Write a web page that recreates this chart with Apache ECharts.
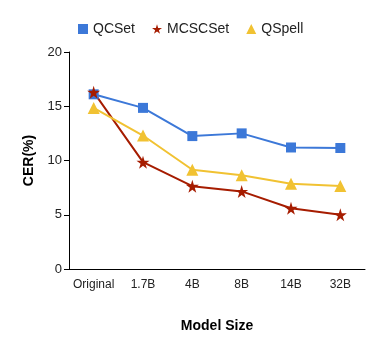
<!DOCTYPE html>
<html>
<head>
<meta charset="utf-8">
<script src="https://cdn.jsdelivr.net/npm/echarts@6/dist/echarts.min.js"></script>
<style>
  html, body { margin: 0; padding: 0; background: #fff; }
  #main { width: 383px; height: 347px; }
</style>
</head>
<body>
<div id="main"></div>
<script>
var categories = ['Original', '1.7B', '4B', '8B', '14B', '32B'];
var qcset = [16.1, 14.85, 12.25, 12.5, 11.2, 11.15];
var mcscset = [16.3, 9.85, 7.63, 7.15, 5.6, 5.0];
var qspell = [14.85, 12.3, 9.15, 8.65, 7.85, 7.65];

var starPath = 'path://M50,0 L61,35 L98,35 L68,57 L79,91 L50,70 L21,91 L32,57 L2,35 L39,35 Z';

var myChart = echarts.init(document.getElementById('main'));
var option = {
  animation: false,
  textStyle: { fontFamily: 'Liberation Sans, Arial, sans-serif' },
  legend: {
    top: 17,
    left: 73,
    itemWidth: 10,
    itemHeight: 10,
    itemGap: 17,
    textStyle: { fontSize: 14, color: '#222' },
    data: [
      { name: 'QCSet', icon: 'rect' },
      { name: 'MCSCSet', icon: starPath },
      { name: 'QSpell', icon: 'triangle' },
    ],
  },
  grid: { left: 69, right: 18, top: 52, bottom: 78, containLabel: false },
  xAxis: {
    type: 'category',
    data: categories,
    boundaryGap: true,
    name: 'Model Size',
    nameLocation: 'middle',
    nameGap: 50,
    nameTextStyle: { fontSize: 14, fontWeight: 'bold', color: '#000' },
    axisLine: { lineStyle: { color: '#000', width: 1 } },
    axisTick: { alignWithLabel: true, length: 5, lineStyle: { color: '#000' } },
    axisLabel: { interval: 0, fontSize: 12, color: '#222', margin: 10 },
  },
  yAxis: {
    type: 'value',
    min: 0,
    max: 20,
    interval: 5,
    name: 'CER(%)',
    nameLocation: 'middle',
    nameGap: 31,
    nameTextStyle: { fontSize: 14, fontWeight: 'bold', color: '#000' },
    axisLine: { show: true, lineStyle: { color: '#000', width: 1 } },
    axisTick: { show: true, length: 5, lineStyle: { color: '#000' } },
    axisLabel: { fontSize: 13, color: '#222', margin: 7 },
    splitLine: { show: false },
  },
  series: [
    {
      name: 'QCSet',
      type: 'line',
      data: qcset,
      symbol: 'rect',
      symbolSize: 10,
      color: '#3c78d8',
      lineStyle: { width: 2 },
    },
    {
      name: 'MCSCSet',
      type: 'line',
      data: mcscset,
      symbol: starPath,
      symbolSize: 13,
      color: '#a61c00',
      lineStyle: { width: 2 },
    },
    {
      name: 'QSpell',
      type: 'line',
      data: qspell,
      symbol: 'triangle',
      symbolSize: 12,
      color: '#f1c232',
      lineStyle: { width: 2 },
    },
  ],
};
myChart.setOption(option);
</script>
</body>
</html>
